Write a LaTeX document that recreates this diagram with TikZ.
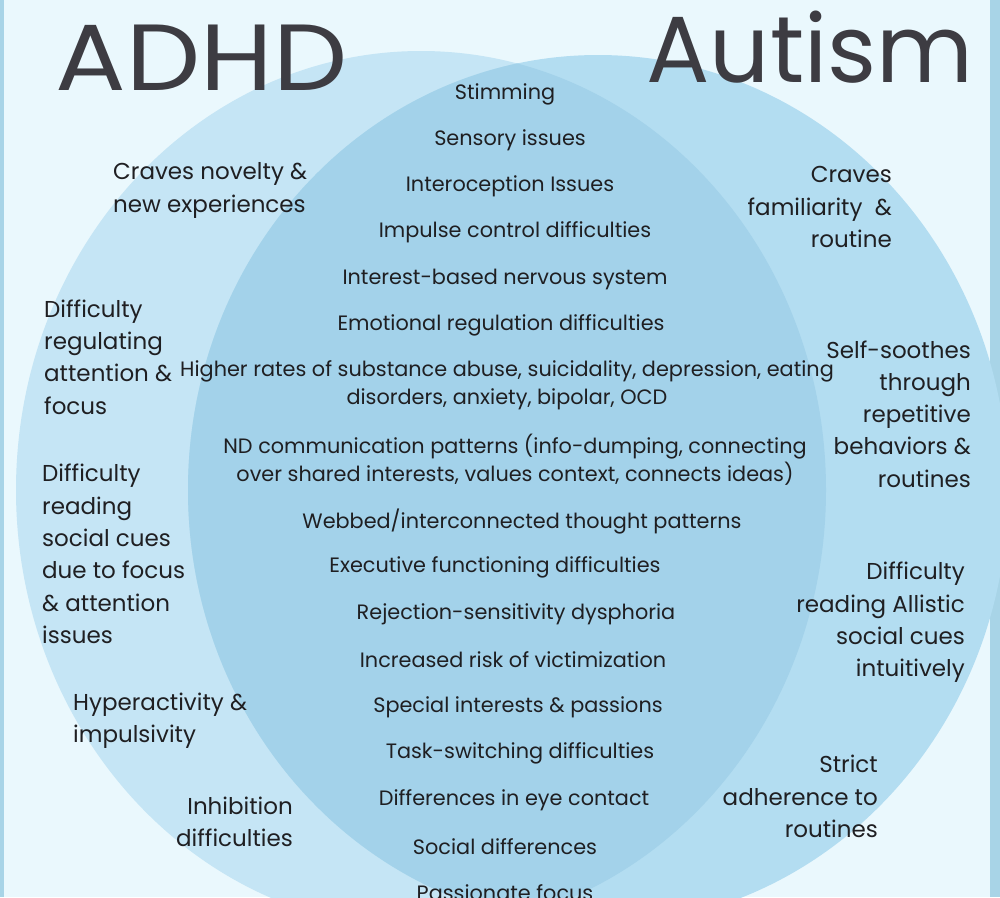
\documentclass[tikz,border=0pt]{standalone}
\usepackage{fontspec}
\setmainfont{Poppins}
\definecolor{bgc}{HTML}{EAF8FD}
\definecolor{stripc}{HTML}{A8D4E7}
\definecolor{leftc}{HTML}{C5E5F5}
\definecolor{rightc}{HTML}{B3DDF1}
\definecolor{bothc}{HTML}{A3D2EA}
\definecolor{titlec}{HTML}{3D3C42}
\definecolor{txtc}{HTML}{1F1F22}
\begin{document}
\begin{tikzpicture}[x=1pt,y=-1pt,
  title/.style={font=\fontsize{94}{94}\selectfont, text=titlec, inner sep=0, anchor=base},
  mid/.style={font=\fontsize{20.8}{28}\selectfont, text=txtc, inner sep=0, align=center},
  lside/.style={font=\fontsize{23}{32.3}\selectfont, text=txtc, inner sep=0, align=left, anchor=west},
  rside/.style={font=\fontsize{23}{32.3}\selectfont, text=txtc, inner sep=0, align=right, anchor=east}]
\useasboundingbox (0,0) rectangle (1000,897);
\fill[bgc] (0,0) rectangle (1000,897);
\fill[stripc] (0,0) rectangle (4,897);
\fill[stripc] (990,0) rectangle (1000,897);
% circles
\fill[leftc] (421,490) ellipse [x radius=405, y radius=439];
\fill[rightc] (598,490) ellipse [x radius=410, y radius=435];
\begin{scope}
  \clip (421,490) ellipse [x radius=405, y radius=439];
  \fill[bothc] (598,490) ellipse [x radius=410, y radius=435];
\end{scope}
% titles
\node[title] (adhd) at (201.5,90) {\scalebox{1.115}[1]{ADHD}};
\node[title] (autism) at (810,82) {Autism};
% center items
\begin{scope}[yshift=-2pt]
\node[mid] (c1) at (505,92) {Stimming};
\node[mid] (c2) at (510,138) {Sensory issues};
\node[mid] (c3) at (510,184) {Interoception Issues};
\node[mid] (c4) at (515,230) {Impulse control difficulties};
\node[mid] (c5) at (505,277) {Interest-based nervous system};
\node[mid] (c6) at (501,323) {Emotional regulation difficulties};
\node[mid] (c7) at (507,383) {Higher rates of substance abuse, suicidality, depression, eating\\disorders, anxiety, bipolar, OCD};
\node[mid] (c8) at (515,458) {ND communication patterns (info-dumping, connecting\\over shared interests, values context, connects ideas)};
\node[mid] (c9) at (522,520) {Webbed/interconnected thought patterns};
\node[mid] (c10) at (495,565) {Executive functioning difficulties};
\node[mid] (c11) at (516,612) {Rejection-sensitivity dysphoria};
\node[mid] (c12) at (513,658) {Increased risk of victimization};
\node[mid] (c13) at (518,705) {Special interests \& passions};
\node[mid] (c14) at (520,751) {Task-switching difficulties};
\node[mid] (c15) at (514,798) {Differences in eye contact};
\node[mid] (c16) at (505,845) {Social differences};
\node[mid] (c17) at (505,891) {Passionate focus};
\end{scope}
\begin{scope}[yshift=-2.5pt]
% ADHD side
\node[lside] (l1) at (113,188) {Craves novelty \&\\new experiences};
\node[lside] (l2) at (44,354.5) {Difficulty\\regulating\\attention \&\\focus};
\node[lside] (l3) at (42,551.5) {Difficulty\\reading\\social cues\\due to focus\\\& attention\\issues};
\node[lside] (l4) at (73,718) {Hyperactivity \&\\impulsivity};
\node[rside] (l5) at (293,819) {Inhibition\\difficulties};
% Autism side
\node[rside] (r1) at (892,204.5) {Craves\\familiarity~~\&\\routine};
\node[rside] (r2) at (971,411.5) {Self-soothes\\through\\repetitive\\behaviors \&\\routines};
\node[rside] (r3) at (965,620) {Difficulty\\reading Allistic\\social cues\\intuitively};
\node[rside] (r4) at (878,794) {Strict\\adherence to\\routines};
\end{scope}
\end{tikzpicture}
\end{document}
